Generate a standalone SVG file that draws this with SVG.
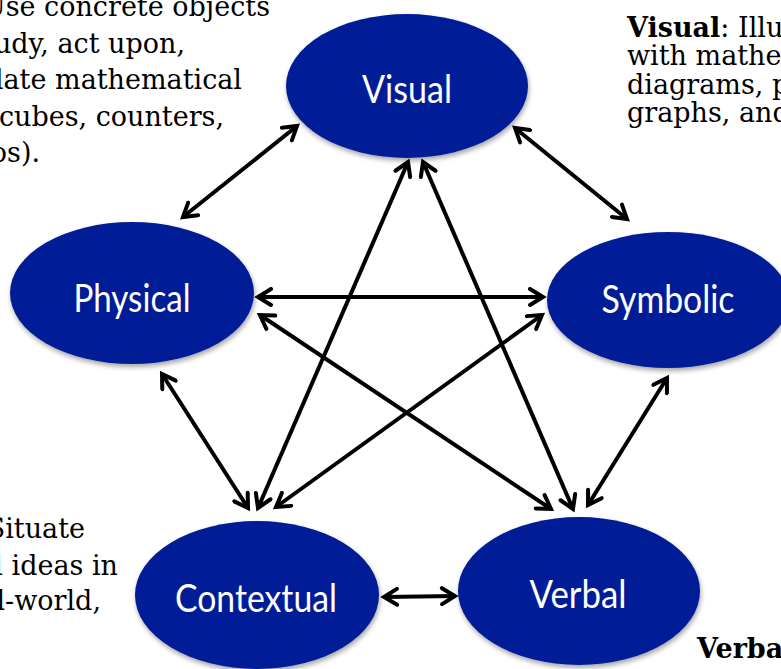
<svg xmlns="http://www.w3.org/2000/svg" width="781" height="669" viewBox="0 0 781 669">
<style>
.node ellipse{fill:#001c96;filter:url(#sh)}
.lbl{font-family:Lato,"Open Sans","Liberation Sans",sans-serif;font-size:39px;fill:#ffffff;text-anchor:middle}
.note{font-family:"DejaVu Serif","Liberation Serif",serif;font-size:27px;fill:#000000}
.end{text-anchor:end}
.conn line{stroke:#000;stroke-width:4;marker-start:url(#ah);marker-end:url(#ah)}
</style>
<defs>
<filter id="sh" x="-20%" y="-20%" width="140%" height="150%">
<feGaussianBlur in="SourceAlpha" stdDeviation="2.5"/>
<feOffset dx="1" dy="3" result="b"/>
<feComponentTransfer><feFuncA type="linear" slope="0.35"/></feComponentTransfer>
<feMerge><feMergeNode/><feMergeNode in="SourceGraphic"/></feMerge>
</filter>
<marker id="ah" viewBox="0 0 20 20" markerUnits="userSpaceOnUse" markerWidth="20" markerHeight="20" refX="16" refY="10" orient="auto-start-reverse">
<path d="M3,2 L16,10 L3,18" fill="none" stroke="#000" stroke-width="4" stroke-linecap="round" stroke-linejoin="miter"/>
</marker>
</defs>
<rect width="781" height="669" fill="#ffffff"/>
<g id="notes">
<text class="note end" x="270" y="16">Use concrete objects</text>
<text class="note end" x="185" y="53">udy, act upon,</text>
<text class="note end" x="242" y="89">late mathematical</text>
<text class="note end" x="224" y="126">cubes, counters,</text>
<text class="note end" x="40" y="162">os).</text>
<text class="note" x="627" y="37"><tspan font-weight="bold">Visual</tspan>: Illus</text>
<text class="note" x="627" y="65">with mathe</text>
<text class="note" x="627" y="94">diagrams, p</text>
<text class="note" x="627" y="122">graphs, and</text>
<text class="note end" x="85" y="538">Situate</text>
<text class="note end" x="118" y="575">l ideas in</text>
<text class="note end" x="101" y="610">l-world,</text>
<text class="note" x="697" y="658" font-weight="bold">Verba</text>
</g>
<g id="connectors" class="conn">
<line x1="297" y1="126" x2="183" y2="217"/>
<line x1="515" y1="128" x2="627" y2="219"/>
<line x1="258" y1="297" x2="543" y2="297"/>
<line x1="260" y1="315" x2="551" y2="509"/>
<line x1="542" y1="315" x2="276" y2="507"/>
<line x1="408" y1="162" x2="258" y2="508"/>
<line x1="423" y1="162" x2="573" y2="509"/>
<line x1="162" y1="374" x2="248" y2="508"/>
<line x1="667" y1="378" x2="588" y2="505"/>
<line x1="384" y1="597" x2="455" y2="596"/>
</g>
<g id="visual" class="node">
<ellipse cx="407" cy="86" rx="121" ry="72"/>
<text class="lbl" x="407" y="103" textLength="90" lengthAdjust="spacingAndGlyphs">Visual</text>
</g>
<g id="physical" class="node">
<ellipse cx="132" cy="293" rx="122" ry="71"/>
<text class="lbl" x="132" y="312" textLength="117" lengthAdjust="spacingAndGlyphs">Physical</text>
</g>
<g id="symbolic" class="node">
<ellipse cx="668" cy="300" rx="121" ry="68"/>
<text class="lbl" x="668" y="313" textLength="133" lengthAdjust="spacingAndGlyphs">Symbolic</text>
</g>
<g id="contextual" class="node">
<ellipse cx="257" cy="595" rx="122" ry="74"/>
<text class="lbl" x="256" y="612" textLength="162" lengthAdjust="spacingAndGlyphs">Contextual</text>
</g>
<g id="verbal" class="node">
<ellipse cx="579" cy="591" rx="121" ry="74"/>
<text class="lbl" x="578" y="608" textLength="97" lengthAdjust="spacingAndGlyphs">Verbal</text>
</g>
</svg>
